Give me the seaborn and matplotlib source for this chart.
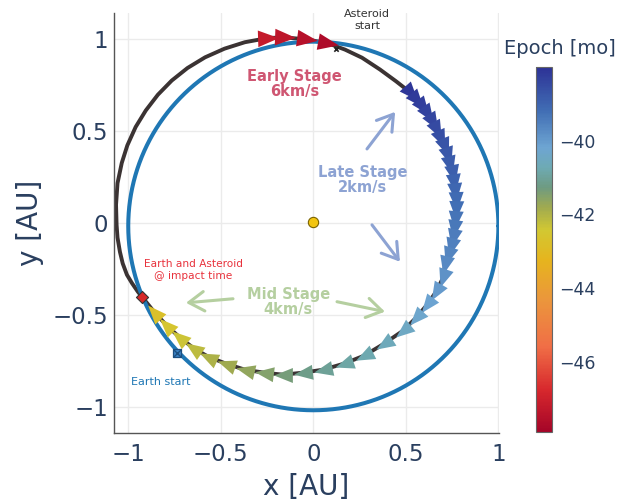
import numpy as np
import pandas as pd
import matplotlib
matplotlib.use("Agg")
import matplotlib.pyplot as plt
import seaborn as sns
from matplotlib.colors import LinearSegmentedColormap, Normalize
from matplotlib.cm import ScalarMappable
from matplotlib.markers import MarkerStyle
from matplotlib.path import Path
from matplotlib.transforms import Affine2D

# ---------------------------------------------------------------------------
# Data (heliocentric ecliptic coordinates, AU; epoch in months)
# ---------------------------------------------------------------------------
# Late / mid stage velocity arrows, ordered along the asteroid track
arrow_x = [0.526, 0.559, 0.591, 0.620, 0.647, 0.670, 0.692, 0.711, 0.728, 0.741,
           0.753, 0.761, 0.766, 0.770, 0.770, 0.767, 0.762, 0.753, 0.742, 0.729,
           0.712, 0.701, 0.663, 0.615, 0.555, 0.485, 0.382, 0.274, 0.166, 0.052,
           -0.056, -0.164, -0.266, -0.369, -0.472, -0.569, -0.650, -0.726, -0.796, -0.861]
arrow_y = [0.706, 0.669, 0.629, 0.588, 0.545, 0.503, 0.457, 0.411, 0.364, 0.315,
           0.266, 0.217, 0.167, 0.117, 0.067, 0.016, -0.033, -0.084, -0.131, -0.179,
           -0.227, -0.298, -0.374, -0.444, -0.515, -0.585, -0.656, -0.721, -0.764, -0.797,
           -0.813, -0.824, -0.813, -0.797, -0.764, -0.726, -0.678, -0.618, -0.553, -0.482]
arrow_epoch = [-38.10, -38.18, -38.26, -38.34, -38.42, -38.50, -38.58, -38.66, -38.74, -38.82,
               -38.90, -38.98, -39.06, -39.14, -39.22, -39.30, -39.38, -39.46, -39.54, -39.62,
               -39.70, -39.85, -40.00, -40.15, -40.30, -40.45, -40.60, -40.75, -40.90, -41.05,
               -41.20, -41.35, -41.50, -41.65, -41.80, -41.95, -42.15, -42.35, -42.55, -42.75]

# Early stage velocity arrows
early_x = [-0.245, -0.153, -0.035, 0.080]
early_y = [1.003, 1.006, 0.995, 0.974]
early_epoch = [-47.20, -47.35, -47.50, -47.70]

# Track segments between the arrow groups
ne_arc_x = [0.171, 0.263, 0.360, 0.447]
ne_arc_y = [0.940, 0.896, 0.832, 0.768]
west_arc_x = [-0.926, -0.948, -0.980, -1.007, -1.030, -1.045, -1.058, -1.063, -1.066,
              -1.058, -1.035, -1.005, -0.960, -0.905, -0.840, -0.765, -0.680, -0.585,
              -0.480, -0.370]
west_arc_y = [-0.401, -0.374, -0.327, -0.282, -0.220, -0.157, -0.080, -0.011, 0.098,
              0.215, 0.325, 0.420, 0.520, 0.610, 0.695, 0.772, 0.840, 0.898,
              0.945, 0.980]

impact_x, impact_y = -0.926, -0.401
earth_start_x, earth_start_y = -0.737, -0.705
asteroid_start_x, asteroid_start_y = 0.124, 0.945
sun_x, sun_y = 0.0, 0.005
earth_orbit_radius = 1.0
earth_orbit_cx, earth_orbit_cy = 0.0, -0.017

epoch_min, epoch_max = -47.9, -38.0
colorbar_ticks = [-46, -44, -42, -40]
axis_ticks = [-1, -0.5, 0, 0.5, 1]
axis_tick_labels = ["\u22121", "\u22120.5", "0", "0.5", "1"]

# Epoch colour scale
scale_pos = [0.000, 0.114, 0.233, 0.361, 0.470, 0.553, 0.616, 0.671, 0.726, 0.780, 0.881, 1.000]
scale_rgb = [(165, 5, 40), (215, 40, 45), (240, 110, 70), (235, 150, 60), (230, 180, 30),
             (210, 200, 50), (160, 170, 80), (110, 155, 130), (110, 170, 180),
             (110, 165, 210), (65, 110, 180), (45, 50, 150)]

# ---------------------------------------------------------------------------
sns.set_theme(style="white")
plt.rcParams["font.family"] = ["DejaVu Sans"]
text_color = "#2a3f5f"

cmap = LinearSegmentedColormap.from_list(
    "epoch", [(p, tuple(c / 255 for c in rgb)) for p, rgb in zip(scale_pos, scale_rgb)])
norm = Normalize(vmin=epoch_min, vmax=epoch_max)

fig = plt.figure(figsize=(6.34, 5.04), dpi=100)
ax = fig.add_axes([0.1798, 0.141, 0.6072, 0.833])

# Asteroid track (closed loop)
track_x = early_x + ne_arc_x + arrow_x + west_arc_x + early_x[:1]
track_y = early_y + ne_arc_y + arrow_y + west_arc_y + early_y[:1]
track = pd.DataFrame({"x": track_x, "y": track_y})
sns.lineplot(data=track, x="x", y="y", sort=False, estimator=None, color="#3b3333",
             linewidth=2.8, ax=ax, zorder=2)

# Earth orbit
theta = np.linspace(0, 2 * np.pi, 361)
orbit = pd.DataFrame({"x": earth_orbit_cx + earth_orbit_radius * np.cos(theta),
                      "y": earth_orbit_cy + earth_orbit_radius * np.sin(theta)})
sns.lineplot(data=orbit, x="x", y="y", sort=False, estimator=None, color="#1f77b4",
             linewidth=2.9, ax=ax, zorder=3)


def arrow_marker(angle):
    verts = [(1, 0), (-1, 0.8), (-1, -0.8), (1, 0)]
    path = Path(verts, [Path.MOVETO, Path.LINETO, Path.LINETO, Path.CLOSEPOLY])
    return MarkerStyle(path, transform=Affine2D().rotate_deg(angle))


def draw_arrows(xs, ys, epochs, size):
    xs, ys = np.asarray(xs), np.asarray(ys)
    dx, dy = np.gradient(xs), np.gradient(ys)
    angles = np.degrees(np.arctan2(dy, dx))
    for xi, yi, ei, ai in zip(xs, ys, epochs, angles):
        ax.scatter([xi], [yi], s=size ** 2, marker=arrow_marker(ai),
                   color=cmap(norm(ei)), linewidths=0, zorder=4)


ax.scatter([asteroid_start_x], [asteroid_start_y], marker="x", s=10, color="#222222",
           linewidths=1.2, zorder=3.5)
draw_arrows(arrow_x, arrow_y, arrow_epoch, 13.5)
draw_arrows(early_x, early_y, early_epoch, 15)

# Point markers
sns.scatterplot(x=[sun_x], y=[sun_y], s=55, color="#f2c511", edgecolor="#7a6300",
                linewidth=0.8, ax=ax, zorder=5)
sns.scatterplot(x=[impact_x], y=[impact_y], marker="D", s=38, color="#d62728",
                edgecolor="#333333", linewidth=0.8, ax=ax, zorder=5)
sns.scatterplot(x=[earth_start_x], y=[earth_start_y], marker="s", s=38, color="#3b82c4",
                edgecolor="#1c4f80", linewidth=0.9, ax=ax, zorder=5)
ax.scatter([earth_start_x], [earth_start_y], marker="x", s=24, color="#1c4f80",
           linewidths=1.0, zorder=6)

# Annotations
ax.text(0.29, 1.10, "Asteroid\nstart", ha="center", va="center", fontsize=8,
        color="#333333", linespacing=1.25)
ax.text(-0.10, 0.756, "Early Stage\n6km/s", ha="center", va="center", fontsize=10.5,
        fontweight="bold", color="#cf5672", linespacing=1.0)
late_c = "#8da3d3"
ax.text(0.268, 0.230, "Late Stage\n2km/s", ha="center", va="center", fontsize=10.5,
        fontweight="bold", color=late_c, linespacing=1.0)
mid_c = "#b5cfa0"
ax.text(-0.135, -0.431, "Mid Stage\n4km/s", ha="center", va="center", fontsize=10.5,
        fontweight="bold", color=mid_c, linespacing=1.0)
ax.text(-0.65, -0.257, "Earth and Asteroid\n@ impact time", ha="center", va="center",
        fontsize=7.6, color="#e8323c", linespacing=1.25)
ax.text(-0.823, -0.862, "Earth start", ha="center", va="center", fontsize=8,
        color="#1f77b4")

arrow_style = "->,head_length=0.55,head_width=0.35"
for (tx, ty), (hx, hy), c in [((0.290, 0.401), (0.442, 0.602), late_c),
                              ((0.317, -0.011), (0.468, -0.211), late_c),
                              ((-0.434, -0.412), (-0.688, -0.434), mid_c),
                              ((0.128, -0.428), (0.387, -0.482), mid_c)]:
    ax.annotate("", xy=(hx, hy), xytext=(tx, ty),
                arrowprops=dict(arrowstyle=arrow_style, color=c, lw=2.2,
                                mutation_scale=20, shrinkA=0, shrinkB=0), zorder=4)

# Axes styling
ax.set_xlim(-1.077, 1.003)
ax.set_ylim(-1.14, 1.138)
ax.set_xticks(axis_ticks, labels=axis_tick_labels)
ax.set_yticks(axis_ticks, labels=axis_tick_labels)
ax.tick_params(axis="both", length=0, labelsize=16.5, colors=text_color)
ax.tick_params(axis="x", pad=7)
ax.tick_params(axis="y", pad=4)
ax.grid(True, color="#ebebeb", linewidth=1.0)
ax.set_axisbelow(True)
for side in ["top", "right"]:
    ax.spines[side].set_visible(False)
for side in ["left", "bottom"]:
    ax.spines[side].set_color("#555555")
    ax.spines[side].set_linewidth(1.0)

ax.set_xlabel("x [AU]", fontsize=20, color=text_color)
ax.set_ylabel("y [AU]", fontsize=20, color=text_color)
ax.xaxis.label.set_verticalalignment("center")
ax.yaxis.label.set_verticalalignment("center")
ax.xaxis.set_label_coords(0.499, -0.129)
ax.yaxis.set_label_coords(-0.218, 0.5)

# Colour bar
cax = fig.add_axes([0.8454, 0.1429, 0.0252, 0.7242])
cb = fig.colorbar(ScalarMappable(norm=norm, cmap=cmap), cax=cax)
cb.set_ticks(colorbar_ticks)
cb.ax.tick_params(length=0, labelsize=12.5, colors=text_color, pad=5)
cb.outline.set_edgecolor("#666666")
cb.outline.set_linewidth(0.8)
fig.text(560 / 634, 1 - 48 / 504, "Epoch [mo]", ha="center", va="center",
         fontsize=14, color=text_color)

fig.savefig("out.png", dpi=100)
